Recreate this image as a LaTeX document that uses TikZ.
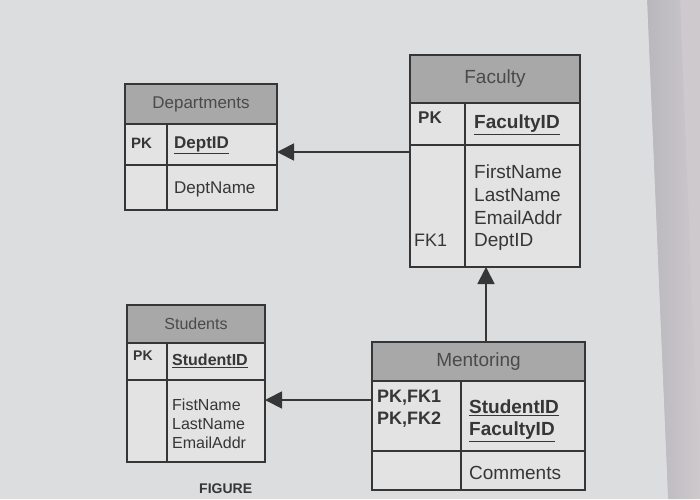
\documentclass[tikz,border=0pt]{standalone}
\usepackage{fontspec}
\setmainfont{Liberation Sans}
\usetikzlibrary{arrows.meta}
\definecolor{page}{HTML}{DCDDDF}
\definecolor{edgebg}{HTML}{CDC9CC}
\definecolor{edgeshadow}{HTML}{B9B7BD}
\definecolor{cellbg}{HTML}{E3E3E3}
\definecolor{hdrbg}{HTML}{A8A8A8}
\definecolor{line}{HTML}{363636}
\definecolor{ink}{HTML}{363636}
\definecolor{hink}{HTML}{4A4A4A}
\begin{document}
\begin{tikzpicture}[x=1pt,y=-1pt,
  cell/.style={draw=line, line width=1.3pt, fill=cellbg, anchor=north west, inner sep=0pt, outer sep=0pt},
  hdr/.style={cell, fill=hdrbg},
  txt/.style={anchor=west, inner sep=0pt, text=ink},
  htxt/.style={anchor=center, inner sep=0pt, text=hink},
  fsz/.style={font=\fontsize{#1}{#1}\selectfont},
  bsz/.style={font=\fontsize{#1}{#1}\selectfont\bfseries},
  arr/.style={draw=line, line width=1.8pt, -{Triangle[length=17pt,width=17pt]}}]
\useasboundingbox (0,0) rectangle (700,499);
\fill[edgebg] (0,0) rectangle (700,499);
\shade[left color=edgeshadow, right color=edgebg] (647,0) -- (680,0) -- (700,499) -- (668,499) -- cycle;
\fill[page] (0,0) -- (647,0) -- (668,499) -- (0,499) -- cycle;

% Departments
\node[hdr, minimum width=152, minimum height=40] (dh) at (125,84) {};
\node[cell, minimum width=42, minimum height=41] (dpk) at (125,124) {};
\node[cell, minimum width=110, minimum height=41] (dpkf) at (167,124) {};
\node[cell, minimum width=42, minimum height=45] (dbk) at (125,165) {};
\node[cell, minimum width=110, minimum height=45] (dbf) at (167,165) {};
\node[htxt, fsz=17] (dht) at (dh.center) {Departments};
\node[txt, bsz=15] (dpkt) at (131,143) {PK};
\node[txt, bsz=17] (dpkft) at (174,145) {\underline{DeptID}};
\node[txt, fsz=17] (dbft) at (174,189) {DeptName};

% Faculty
\node[hdr, minimum width=170, minimum height=48] (fh) at (410,55) {};
\node[cell, minimum width=55, minimum height=42] (fpk) at (410,103) {};
\node[cell, minimum width=115, minimum height=42] (fpkf) at (465,103) {};
\node[cell, minimum width=55, minimum height=122] (fbk) at (410,145) {};
\node[cell, minimum width=115, minimum height=122] (fbf) at (465,145) {};
\node[htxt, fsz=19] (fht) at (fh.center) {Faculty};
\node[txt, bsz=17] (fpkt) at (418,118) {PK};
\node[txt, bsz=19] (fpkft) at (474,125) {\underline{FacultyID}};
\node[txt, fsz=19] (fb1) at (474,172) {FirstName};
\node[txt, fsz=19] (fb2) at (474,195) {LastName};
\node[txt, fsz=19] (fb3) at (474,218) {EmailAddr};
\node[txt, fsz=19] (fb4) at (474,242) {DeptID};
\node[txt, fsz=18] (fbkt) at (414,240) {FK1};

% Students
\node[hdr, minimum width=138, minimum height=38] (sh) at (127,305) {};
\node[cell, minimum width=40, minimum height=37] (spk) at (127,343) {};
\node[cell, minimum width=98, minimum height=37] (spkf) at (167,343) {};
\node[cell, minimum width=40, minimum height=82] (sbk) at (127,380) {};
\node[cell, minimum width=98, minimum height=82] (sbf) at (167,380) {};
\node[htxt, fsz=16] (sht) at (sh.center) {Students};
\node[txt, bsz=14] (spkt) at (133,356) {PK};
\node[txt, bsz=16] (spkft) at (172,361) {\underline{StudentID}};
\node[txt, fsz=16] (sb1) at (172,405) {FistName};
\node[txt, fsz=16] (sb2) at (172,424) {LastName};
\node[txt, fsz=16] (sb3) at (172,443) {EmailAddr};

% Mentoring
\node[hdr, minimum width=213, minimum height=39] (mh) at (372,342) {};
\node[cell, minimum width=89, minimum height=70] (mpk) at (372,381) {};
\node[cell, minimum width=124, minimum height=70] (mpkf) at (461,381) {};
\node[cell, minimum width=89, minimum height=39] (mbk) at (372,451) {};
\node[cell, minimum width=124, minimum height=39] (mbf) at (461,451) {};
\node[htxt, fsz=19] (mht) at (mh.center) {Mentoring};
\node[txt, bsz=18] (mpk1) at (377,398) {PK,FK1};
\node[txt, bsz=18] (mpk2) at (377,420) {PK,FK2};
\node[txt, bsz=19] (mpf1) at (469,408) {\underline{StudentID}};
\node[txt, bsz=19] (mpf2) at (469,432) {\underline{FacultyID}};
\node[txt, fsz=19] (mbft) at (469,473) {Comments};

\node[txt, bsz=14] (fig) at (199,489) {FIGURE};

% connectors
\coordinate (fa) at (410,152);
\draw[arr] (fa) -- (fa -| dpkf.east);
\coordinate (ma) at (372,400);
\draw[arr] (ma) -- (ma -| sbf.east);
\coordinate (mf) at (486,342);
\draw[arr] (mf) -- (mf |- fbf.south);
\end{tikzpicture}
\end{document}
